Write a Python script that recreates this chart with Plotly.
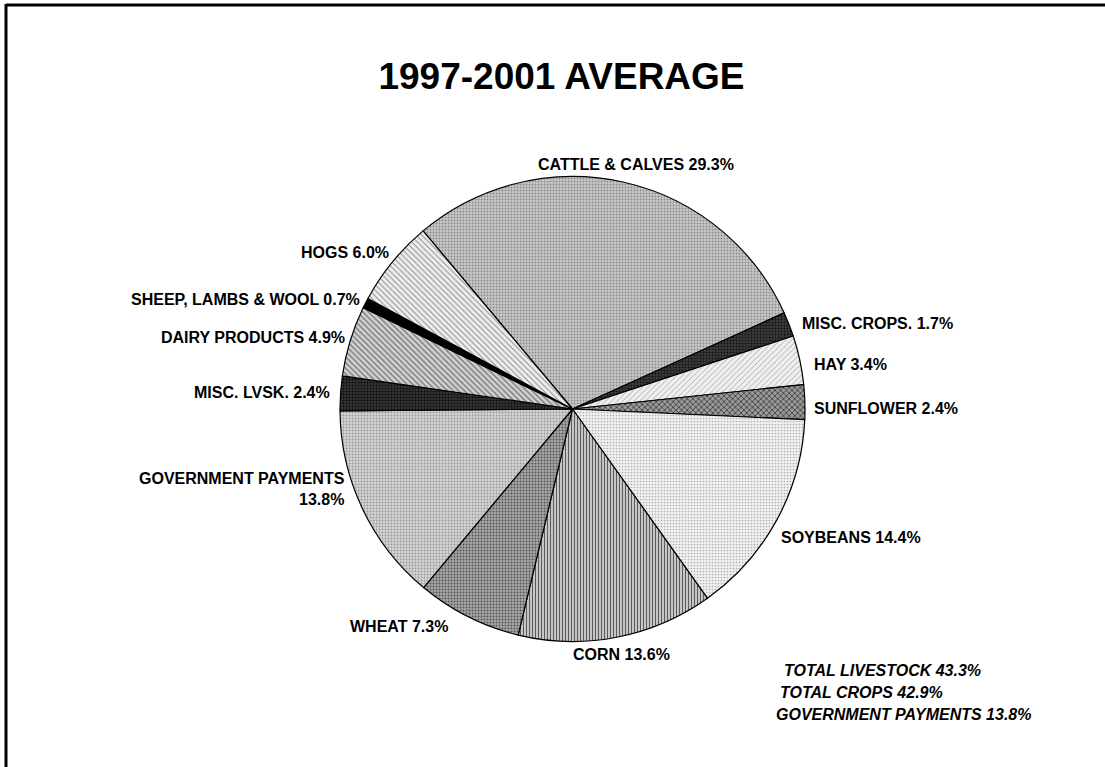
import plotly.graph_objects as go

# ---- data ----
labels = ["CATTLE & CALVES", "MISC. CROPS.", "HAY", "SUNFLOWER", "SOYBEANS", "CORN",
          "WHEAT", "GOVERNMENT PAYMENTS", "MISC. LVSK.", "DAIRY PRODUCTS",
          "SHEEP, LAMBS & WOOL", "HOGS"]
values = [29.3, 1.7, 3.4, 2.4, 14.4, 13.6, 7.3, 13.8, 2.4, 4.9, 0.7, 6.0]
label_sep = [" ", " ", " ", " ", " ", " ", " ", "<br>", " ", " ", " ", " "]
title_text = "1997-2001 AVERAGE"
totals_text = ["TOTAL LIVESTOCK 43.3%", "TOTAL CROPS 42.9%", "GOVERNMENT PAYMENTS 13.8%"]

# ---- styles ----
bg_colors = ["#c8c8c8", "#3a3a3a", "#efefef", "#9a9a9a", "#f0f0f0", "#c6c6c6",
             "#a8a8a8", "#d4d4d4", "#333333", "#d2d2d2", "#000000", "#eeeeee"]
fg_colors = ["#8a8a8a", "#111111", "#a0a0a0", "#333333", "#b0b0b0", "#5a5a5a",
             "#555555", "#999999", "#0a0a0a", "#707070", "#000000", "#8c8c8c"]
shapes_p = [".", ".", "/", "x", ".", "|", ".", ".", ".", "\\", "", "\\"]
sizes_p = [3, 3, 4, 4, 3, 3, 3, 3, 3, 4, 3, 4]
solid_p = [0.3, 0.3, 0.2, 0.35, 0.25, 0.35, 0.35, 0.3, 0.3, 0.3, 0.3, 0.25]

# label placement (pixel position of label anchor, anchor side) - layout only
label_layout = [
    (536, 165, "left"),    # cattle
    (800, 323, "left"),    # misc crops
    (812, 365, "left"),    # hay
    (812, 408, "left"),    # sunflower
    (779, 537, "left"),    # soybeans
    (571, 654, "left"),    # corn
    (348, 626, "left"),    # wheat
    (347, 489, "right"),   # government payments
    (332, 392, "right"),   # misc lvsk
    (347, 337, "right"),   # dairy
    (362, 299, "right"),   # sheep
    (391, 252, "right"),   # hogs
]

texts = [f"<b>{l}{s}{v:.1f}%</b>" for l, s, v in zip(labels, label_sep, values)]

W, H = 1105, 767
cx, cy, r = 572.5, 409, 232.5
FONT = "Arial, Liberation Sans, sans-serif"

fig = go.Figure(go.Pie(
    labels=labels,
    values=values,
    textinfo="none",
    sort=False,
    direction="clockwise",
    rotation=-40,
    hoverinfo="label+value",
    showlegend=False,
    marker=dict(
        colors=bg_colors,
        line=dict(color="#000000", width=1.2),
        pattern=dict(shape=shapes_p, fgcolor=fg_colors, bgcolor=bg_colors,
                     size=sizes_p, solidity=solid_p, fillmode="replace"),
    ),
    domain=dict(x=[(cx - r) / W, (cx + r) / W],
                y=[(H - cy - r) / H, (H - cy + r) / H]),
))

annotations = []
for t, (x, y, side) in zip(texts, label_layout):
    annotations.append(dict(
        text=t, x=x / W, y=1 - y / H, xref="paper", yref="paper",
        xanchor=side, yanchor="middle", align=side, showarrow=False,
        font=dict(family=FONT, size=16, color="#000000"),
    ))

tot_x = [782, 778, 774]
tot_y = [670, 692, 714]
for t, x, y in zip(totals_text, tot_x, tot_y):
    annotations.append(dict(
        text=f"<b><i>{t}</i></b>", x=x / W, y=1 - y / H, xref="paper", yref="paper",
        xanchor="left", yanchor="middle", showarrow=False,
        font=dict(family=FONT, size=16, color="#000000"),
    ))

fig.update_layout(
    width=W, height=H,
    margin=dict(l=0, r=0, t=0, b=0),
    paper_bgcolor="#ffffff",
    plot_bgcolor="#ffffff",
    title=dict(text=f"<b>{title_text}</b>", x=561.5 / W, xanchor="center",
               y=1 - 76 / H, yanchor="middle", yref="container",
               font=dict(family=FONT, size=37, color="#000000")),
    annotations=annotations,
    shapes=[
        dict(type="line", xref="paper", yref="paper", x0=6 / W, x1=1.0, y0=1 - 5 / H, y1=1 - 5 / H,
             line=dict(color="#000000", width=3)),
        dict(type="line", xref="paper", yref="paper", x0=6 / W, x1=6 / W, y0=1 - 4 / H, y1=0,
             line=dict(color="#000000", width=3)),
    ],
)

fig.write_html("out.html", config={"displayModeBar": False},
               post_script="document.body.style.margin='0px';")
